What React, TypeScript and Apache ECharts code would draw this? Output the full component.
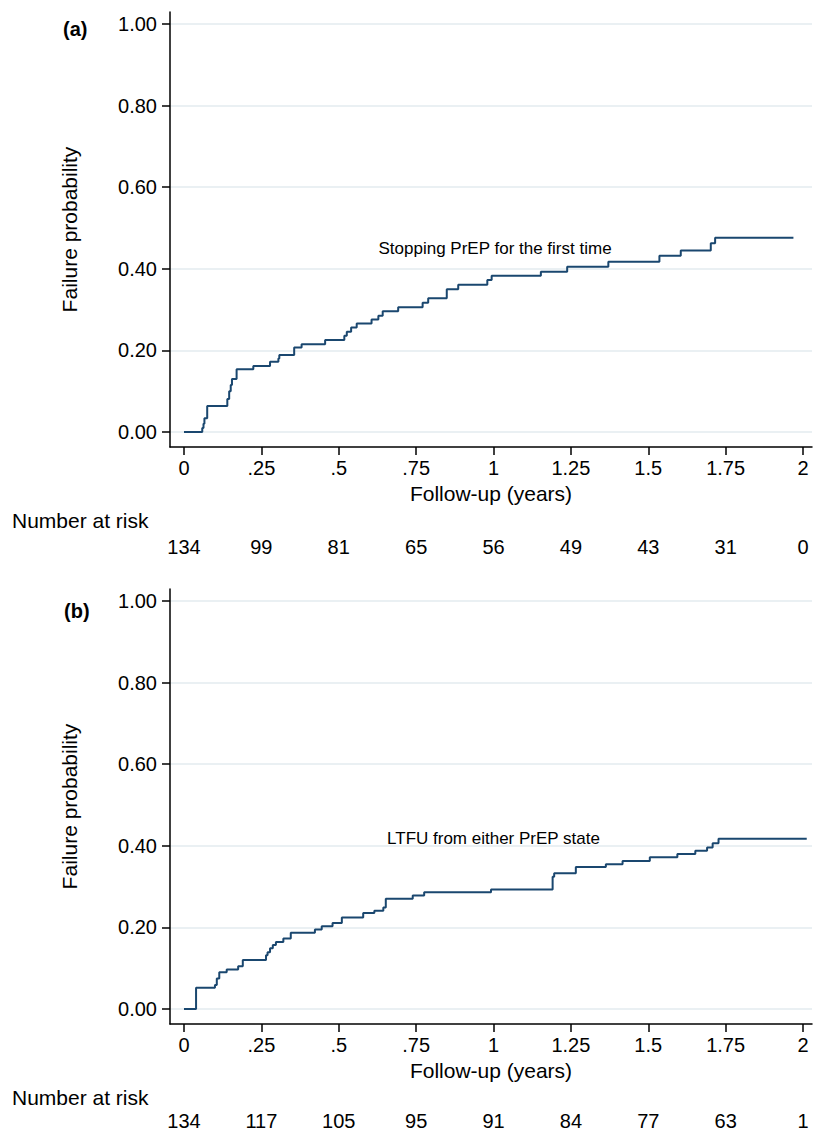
import React, { useEffect, useRef } from 'react';
import * as echarts from 'echarts';

// ---- data ----
const xTicks = [0, 0.25, 0.5, 0.75, 1, 1.25, 1.5, 1.75, 2];
const yTicks = [0, 0.2, 0.4, 0.6, 0.8, 1];

// Panel (a): Stopping PrEP for the first time (time in years, cumulative failure probability)
const timeA = [0, 0.059, 0.063, 0.066, 0.075, 0.14, 0.146, 0.151, 0.155, 0.17, 0.224, 0.278, 0.305, 0.308, 0.356, 0.38, 0.456, 0.518, 0.526, 0.54, 0.558, 0.606, 0.628, 0.642, 0.692, 0.771, 0.789, 0.849, 0.886, 0.98, 0.994, 1.153, 1.238, 1.371, 1.536, 1.605, 1.702, 1.716, 1.969];
const probA = [0, 0.01, 0.02, 0.034, 0.064, 0.081, 0.1, 0.115, 0.13, 0.154, 0.162, 0.172, 0.18, 0.189, 0.207, 0.215, 0.2255, 0.236, 0.246, 0.256, 0.266, 0.276, 0.285, 0.296, 0.306, 0.317, 0.328, 0.35, 0.361, 0.3725, 0.383, 0.393, 0.405, 0.417, 0.432, 0.445, 0.4625, 0.476, 0.476];

// Panel (b): LTFU from either PrEP state
const timeB = [0, 0.039, 0.1, 0.106, 0.114, 0.138, 0.175, 0.19, 0.265, 0.27, 0.278, 0.287, 0.297, 0.321, 0.345, 0.423, 0.445, 0.48, 0.51, 0.579, 0.615, 0.644, 0.652, 0.739, 0.776, 0.992, 1.191, 1.196, 1.266, 1.363, 1.417, 1.505, 1.594, 1.652, 1.69, 1.708, 1.727, 2.012];
const probB = [0, 0.052, 0.059, 0.075, 0.09, 0.097, 0.105, 0.12, 0.132, 0.139, 0.149, 0.157, 0.164, 0.173, 0.187, 0.195, 0.203, 0.211, 0.224, 0.235, 0.241, 0.249, 0.27, 0.278, 0.286, 0.293, 0.324, 0.333, 0.348, 0.355, 0.363, 0.372, 0.38, 0.388, 0.396, 0.406, 0.417, 0.417];

const atRiskA = [134, 99, 81, 65, 56, 49, 43, 31, 0];
const atRiskB = [134, 117, 105, 95, 91, 84, 77, 63, 1];

const labelA = 'Stopping PrEP for the first time';
const labelB = 'LTFU from either PrEP state';
const panelA = '(a)';
const panelB = '(b)';
const yTitle = 'Failure probability';
const xTitle = 'Follow-up (years)';
const riskTitle = 'Number at risk';

// ---- styling ----
const FONT = '"Liberation Sans", Arial, Helvetica, sans-serif';
const NAVY = '#1a476f';
const GRID_COLOR = '#e3ebef';
const X_MIN = -0.0452;
const X_MAX = 2.029;
const Y_MIN = -15 / 408;
const Y_MAX = 1 + 12 / 408;

const fmtX = (v: number) => (v === 0 ? '0' : String(v).replace(/^0\./, '.'));

function buildPanel(gridIndex: number, times: number[], probs: number[], atRisk: number[], label: string, labelCoord: number[], riskOffset: number) {
  const xMain = {
    type: 'value',
    gridIndex,
    min: X_MIN,
    max: X_MAX,
    position: 'bottom',
    name: xTitle,
    nameLocation: 'middle',
    nameGap: 36,
    nameTextStyle: { fontFamily: FONT, fontSize: 21, color: '#000' },
    axisLine: { show: true, onZero: false, lineStyle: { color: '#000', width: 1.5 } },
    axisTick: { show: true, length: 8, customValues: xTicks, lineStyle: { color: '#000', width: 1.5 } },
    axisLabel: { show: true, customValues: xTicks, margin: 11, fontFamily: FONT, fontSize: 20, color: '#000', formatter: fmtX },
    splitLine: { show: false },
  };
  const xRisk = {
    type: 'value',
    gridIndex,
    min: X_MIN,
    max: X_MAX,
    position: 'bottom',
    offset: riskOffset,
    axisLine: { show: false },
    axisTick: { show: false, customValues: xTicks },
    splitLine: { show: false },
    axisLabel: {
      show: true,
      customValues: xTicks,
      margin: 0,
      fontFamily: FONT,
      fontSize: 20,
      color: '#000',
      formatter: (v: number) => String(atRisk[Math.round(v / 0.25)]),
    },
  };
  const yAxis = {
    type: 'value',
    gridIndex,
    min: Y_MIN,
    max: Y_MAX,
    name: yTitle,
    nameLocation: 'middle',
    nameGap: 90,
    nameRotate: 90,
    nameTextStyle: { fontFamily: FONT, fontSize: 21, color: '#000' },
    axisLine: { show: true, onZero: false, lineStyle: { color: '#000', width: 1.5 } },
    axisTick: { show: true, length: 8, customValues: yTicks, lineStyle: { color: '#000', width: 1.5 } },
    axisLabel: { show: true, customValues: yTicks, margin: 13, fontFamily: FONT, fontSize: 20, color: '#000', formatter: (v: number) => v.toFixed(2) },
    splitLine: { show: true, lineStyle: { color: GRID_COLOR, width: 1.5 } },
  };
  const series = {
    type: 'line',
    xAxisIndex: gridIndex * 2,
    yAxisIndex: gridIndex,
    step: 'end',
    showSymbol: false,
    symbol: 'none',
    lineStyle: { color: NAVY, width: 2 },
    data: times.map((t, i) => [t, probs[i]]),
    markPoint: {
      silent: true,
      symbol: 'circle',
      symbolSize: 0,
      data: [
        {
          coord: labelCoord,
          label: { show: true, position: 'inside', formatter: label, fontFamily: FONT, fontSize: 17, color: '#000' },
        },
      ],
    },
  };
  return { xAxes: [xMain, xRisk], yAxis, series };
}

export default function App() {
  const ref = useRef<HTMLDivElement>(null);
  useEffect(() => {
    if (!ref.current) return;
    const chart = echarts.init(ref.current, undefined, { renderer: 'svg' });
    const a = buildPanel(0, timeA, probA, atRiskA, labelA, [1.005, 0.449], 90);
    const b = buildPanel(1, timeB, probB, atRiskB, labelB, [1.0, 0.419], 87);
    chart.setOption({
      animation: false,
      backgroundColor: '#fff',
      grid: [
        { left: 170, top: 12, width: 642, height: 435, outerBoundsMode: 'none', containLabel: false },
        { left: 170, top: 589, width: 642, height: 435, outerBoundsMode: 'none', containLabel: false },
      ],
      xAxis: [...a.xAxes, ...b.xAxes],
      yAxis: [a.yAxis, b.yAxis],
      series: [a.series, b.series],
      graphic: [
        { type: 'text', left: 63, top: 19, style: { text: panelA, font: `bold 20px ${FONT}`, fill: '#000' } },
        { type: 'text', left: 64, top: 601, style: { text: panelB, font: `bold 20px ${FONT}`, fill: '#000' } },
        { type: 'text', left: 12, top: 510, style: { text: riskTitle, font: `21px ${FONT}`, fill: '#000' } },
        { type: 'text', left: 12, top: 1087, style: { text: riskTitle, font: `21px ${FONT}`, fill: '#000' } },
      ],
    });
    return () => chart.dispose();
  }, []);
  return <div ref={ref} style={{ position: 'absolute', left: 0, top: 0, width: 814, height: 1132 }} />;
}
